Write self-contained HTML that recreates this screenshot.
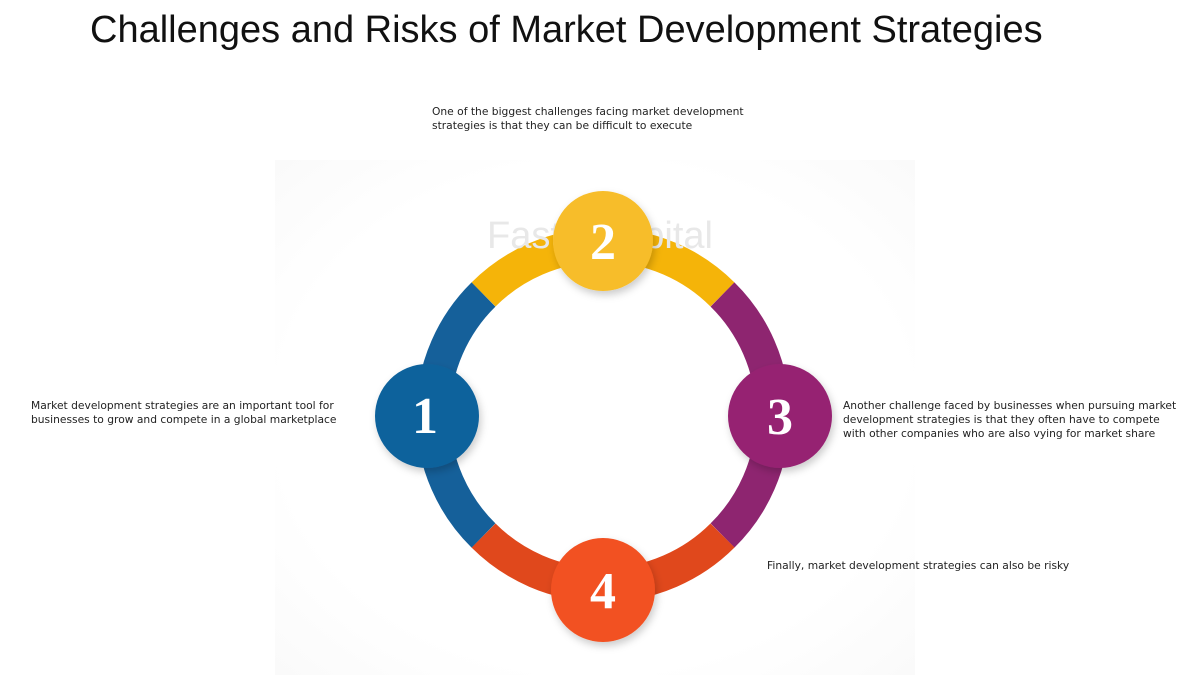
<!DOCTYPE html>
<html><head><meta charset="utf-8"><style>
body{margin:0;width:1200px;height:675px;background:#fff;position:relative;overflow:hidden;font-family:"Liberation Sans",sans-serif}
h1{position:absolute;left:90px;top:9px;margin:0;font-weight:normal;font-size:38px;color:#111;white-space:nowrap}
.t{position:absolute;font-family:"DejaVu Sans","Liberation Sans",sans-serif;font-size:10.7px;line-height:14px;color:#222}
</style></head><body>
<h1>Challenges and Risks of Market Development Strategies</h1>
<div style="position:absolute;left:275px;top:160px;width:640px;height:515px;background:radial-gradient(ellipse at center,#fff 70%,#fafafa 100%)"></div>
<svg width="1200" height="675" style="position:absolute;left:0;top:0">
<defs><filter id="s" x="-50%" y="-50%" width="200%" height="200%"><feDropShadow dx="2" dy="4" stdDeviation="4" flood-color="#000" flood-opacity="0.2"/></filter></defs>
<g fill="none" stroke-width="34">
<path d="M483.5 294.5 A169 169 0 0 1 722.5 294.5" stroke="#f5b409"/>
<path d="M722.5 294.5 A169 169 0 0 1 722.5 535.5" stroke="#8e2570"/>
<path d="M722.5 535.5 A169 169 0 0 1 483.5 535.5" stroke="#e0481c"/>
<path d="M483.5 535.5 A169 169 0 0 1 483.5 294.5" stroke="#15609a"/>
</g>
<text x="600" y="248" text-anchor="middle" font-family="Liberation Sans" font-size="38" fill="#e8e8e8">FasterCapital</text>
<g filter="url(#s)">
<circle cx="603" cy="241" r="50" fill="#f7bd2a"/>
<circle cx="427" cy="416" r="52" fill="#11629c"/>
<circle cx="780" cy="416" r="52" fill="#962472"/>
<circle cx="603" cy="590" r="52" fill="#f25120"/>
</g>
<g font-family="Liberation Serif" font-weight="bold" font-size="52" fill="#fff" text-anchor="middle">
<text x="603" y="259">2</text><text x="425" y="433">1</text><text x="780" y="434">3</text><text x="603" y="608">4</text>
</g>
</svg>
<div class="t" style="left:432px;top:105px">One of the biggest challenges facing market development<br>strategies is that they can be difficult to execute</div>
<div class="t" style="left:31px;top:399px">Market development strategies are an important tool for<br>businesses to grow and compete in a global marketplace</div>
<div class="t" style="left:843px;top:399px">Another challenge faced by businesses when pursuing market<br>development strategies is that they often have to compete<br>with other companies who are also vying for market share</div>
<div class="t" style="left:767px;top:559px">Finally, market development strategies can also be risky</div>
</body></html>
